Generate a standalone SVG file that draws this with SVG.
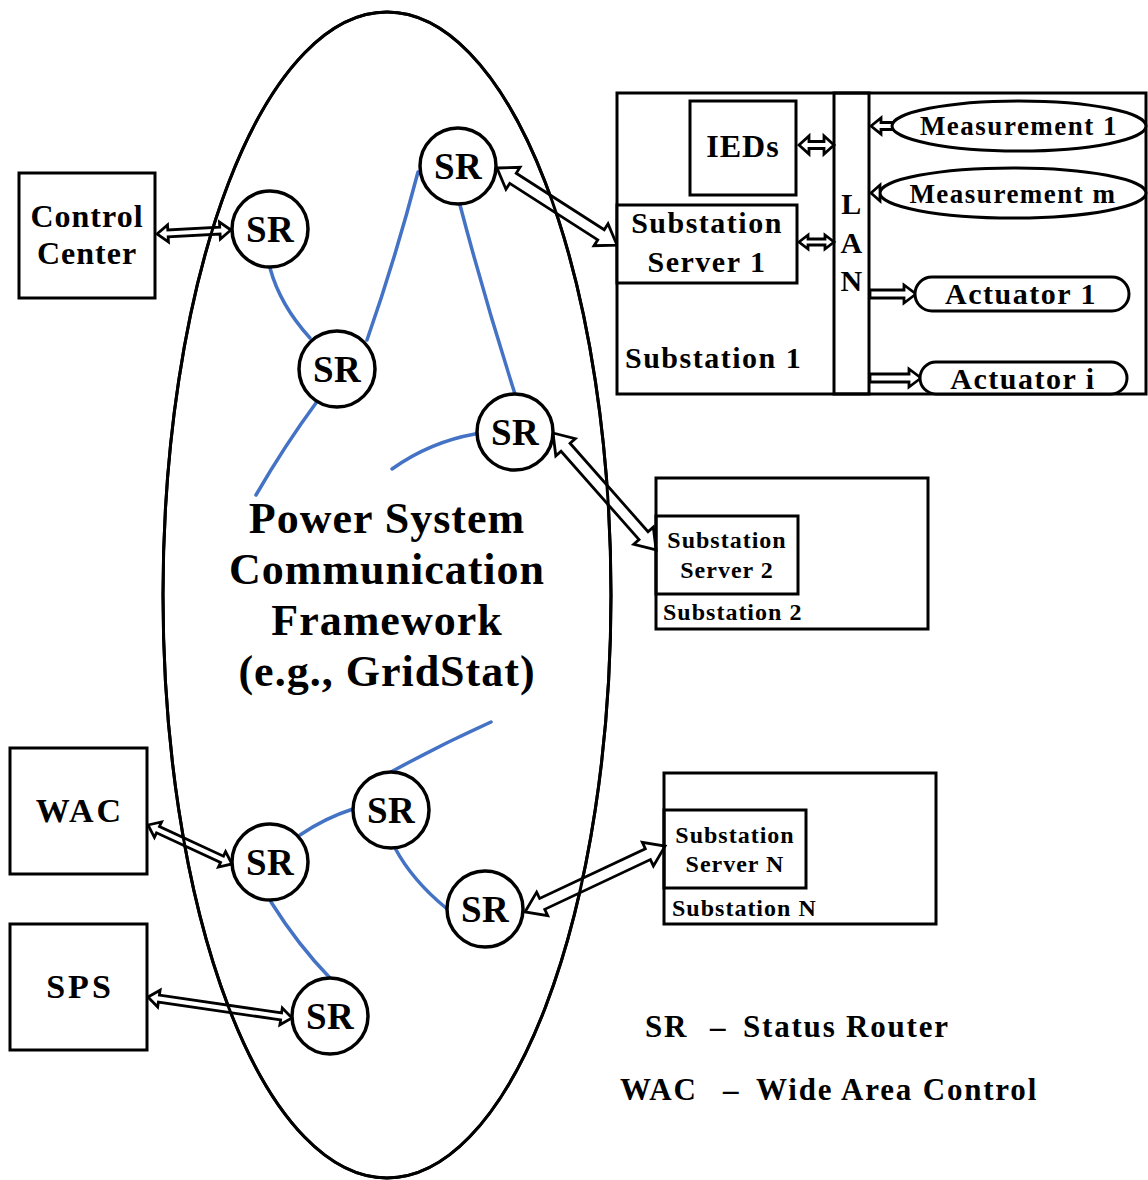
<svg xmlns="http://www.w3.org/2000/svg" width="1148" height="1180" viewBox="0 0 1148 1180">
<style>
.bx{fill:#fff;stroke:#000;stroke-width:3}
.nf{fill:none;stroke:#000;stroke-width:3}
.ar{fill:#fff;stroke:#000;stroke-width:2.8;stroke-linejoin:miter}
.bl{fill:none;stroke:#4472C4;stroke-width:3.5;stroke-linecap:round}
.sr{fill:#fff;stroke:#000;stroke-width:3.5}
text{font-family:"Liberation Serif","Times New Roman",serif;font-weight:bold;fill:#000}
.c{text-anchor:middle}
.t36{font-size:37px;letter-spacing:0.3px}
.t32{font-size:32px;letter-spacing:1px}
.t30{font-size:30px;letter-spacing:1.5px}
.t27{font-size:27px;letter-spacing:1.5px}
.t24{font-size:24px;letter-spacing:1px}
.t43{font-size:44px;letter-spacing:1px}
.t34{font-size:34px;letter-spacing:3px}
.t31{font-size:31px;letter-spacing:1.8px}
</style>
<rect width="1148" height="1180" fill="#fff"/>

<g id="framework">
<ellipse cx="387" cy="595" rx="224" ry="583" class="nf"/>
<text class="c t43" x="387" y="533">Power System</text>
<text class="c t43" x="387" y="584">Communication</text>
<text class="c t43" x="387" y="635">Framework</text>
<text class="c t43" x="387" y="686">(e.g., GridStat)</text>
</g>

<g id="links">
<path class="bl" d="M270,268 Q280,305 310,338"/>
<path class="bl" d="M367,340 Q395,260 418,172"/>
<path class="bl" d="M316,403 Q285,445 256,495"/>
<path class="bl" d="M460,205 Q485,300 515,394"/>
<path class="bl" d="M475,434 Q430,442 392,469"/>
<path class="bl" d="M491,722 Q440,745 391,772"/>
<path class="bl" d="M353,809 Q325,818 300,835"/>
<path class="bl" d="M395,848 Q412,880 446,908"/>
<path class="bl" d="M271,902 Q298,945 330,978"/>
</g>

<g id="connectors">
<polygon class="ar" transform="translate(157 234) rotate(-3.1)" points="0,0 11,-8.5 11,-3.5 63,-3.5 63,-8.5 74,0 63,8.5 63,3.5 11,3.5 11,8.5"/>
<polygon class="ar" transform="translate(148 825) rotate(24.9)" points="0,0 11,-8.5 11,-3.5 81.6,-3.5 81.6,-8.5 92.6,0 81.6,8.5 81.6,3.5 11,3.5 11,8.5"/>
<polygon class="ar" transform="translate(148 997) rotate(8.3)" points="0,0 11,-8.5 11,-3.5 134.5,-3.5 134.5,-8.5 145.5,0 134.5,8.5 134.5,3.5 11,3.5 11,8.5"/>
<polygon class="ar" transform="translate(497 168) rotate(32.7)" points="0,0 19,-13 19,-6 123.6,-6 123.6,-13 142.6,0 123.6,13 123.6,6 19,6 19,13"/>
<polygon class="ar" transform="translate(553 433) rotate(48.6)" points="0,0 19,-13 19,-6 136.9,-6 136.9,-13 155.9,0 136.9,13 136.9,6 19,6 19,13"/>
<polygon class="ar" transform="translate(525 912) rotate(-25.2)" points="0,0 19,-13 19,-6 135.8,-6 135.8,-13 154.8,0 135.8,13 135.8,6 19,6 19,13"/>
<polygon class="ar" transform="translate(799 145)" points="0,0 10,-9 10,-3.5 25,-3.5 25,-9 35,0 25,9 25,3.5 10,3.5 10,9"/>
<polygon class="ar" transform="translate(799 242)" points="0,0 9,-7 9,-3 26,-3 26,-7 35,0 26,7 26,3 9,3 9,7"/>
<polygon class="ar" transform="translate(871 126)" points="0,0 10,-8 10,-3.5 22,-3.5 22,3.5 10,3.5 10,8"/>
<polygon class="ar" transform="translate(871 193)" points="0,0 9,-8 9,-3 12,-3 12,3 9,3 9,8"/>
<polygon class="ar" transform="translate(916 294) rotate(180)" points="0,0 12,-9 12,-4 46,-4 46,4 12,4 12,9"/>
<polygon class="ar" transform="translate(921 378) rotate(180)" points="0,0 12,-9 12,-4 51,-4 51,4 12,4 12,9"/>
</g>

<ellipse cx="387" cy="595" rx="224" ry="583" class="nf"/>

<g id="control-center">
<rect class="bx" x="19" y="173" width="136" height="125"/>
<text class="c t32" x="87" y="227">Control</text>
<text class="c t32" x="87" y="264">Center</text>
</g>

<g id="wac">
<rect class="bx" x="10" y="748" width="137" height="126"/>
<text class="c t34" x="80" y="822">WAC</text>
</g>

<g id="sps">
<rect class="bx" x="10" y="924" width="137" height="126"/>
<text class="c t34" x="80" y="998">SPS</text>
</g>

<g id="sr1"><circle class="sr" cx="270" cy="229" r="38"/><text class="c t36" x="270" y="242">SR</text></g>
<g id="sr2"><circle class="sr" cx="337" cy="369" r="38"/><text class="c t36" x="337" y="382">SR</text></g>
<g id="sr3"><circle class="sr" cx="458" cy="166" r="38"/><text class="c t36" x="458" y="179">SR</text></g>
<g id="sr4"><circle class="sr" cx="515" cy="432" r="38"/><text class="c t36" x="515" y="445">SR</text></g>
<g id="sr5"><circle class="sr" cx="391" cy="810" r="38"/><text class="c t36" x="391" y="823">SR</text></g>
<g id="sr6"><circle class="sr" cx="270" cy="862" r="38"/><text class="c t36" x="270" y="875">SR</text></g>
<g id="sr7"><circle class="sr" cx="485" cy="909" r="38"/><text class="c t36" x="485" y="922">SR</text></g>
<g id="sr8"><circle class="sr" cx="330" cy="1016" r="38"/><text class="c t36" x="330" y="1029">SR</text></g>

<g id="substation1">
<rect class="nf" x="617" y="93" width="529" height="301"/>
<rect class="nf" x="834" y="93" width="35" height="301"/>
<text class="c t30" x="852" y="214">L</text>
<text class="c t30" x="852" y="253">A</text>
<text class="c t30" x="852" y="291">N</text>
<text class="t30" x="625" y="368">Substation 1</text>
</g>

<g id="ieds">
<rect class="bx" x="690" y="101" width="106" height="94"/>
<text class="c t32" x="743" y="157">IEDs</text>
</g>

<g id="server1">
<rect class="bx" x="617" y="205" width="180" height="78"/>
<text class="c t30" x="707" y="233">Substation</text>
<text class="c t30" x="707" y="272">Server 1</text>
</g>

<g id="measurement1">
<ellipse class="bx" cx="1019" cy="126" rx="127" ry="25"/>
<text class="c t27" x="1019" y="135">Measurement 1</text>
</g>
<g id="measurementm">
<ellipse class="bx" cx="1013" cy="193" rx="133" ry="25"/>
<text class="c t27" x="1013" y="203">Measurement m</text>
</g>
<g id="actuator1">
<rect class="bx" x="915" y="277" width="214" height="34" rx="17"/>
<text class="c t30" x="1021" y="304">Actuator 1</text>
</g>
<g id="actuatori">
<rect class="bx" x="920" y="362" width="207" height="32" rx="16"/>
<text class="c t30" x="1023" y="389">Actuator i</text>
</g>

<g id="substation2">
<rect class="nf" x="656" y="478" width="272" height="151"/>
<rect class="nf" x="656" y="516" width="142" height="78"/>
<text class="c t24" x="727" y="548">Substation</text>
<text class="c t24" x="727" y="578">Server 2</text>
<text class="t24" x="663" y="620">Substation 2</text>
</g>

<g id="substationN">
<rect class="nf" x="664" y="773" width="272" height="151"/>
<rect class="nf" x="664" y="810" width="142" height="78"/>
<text class="c t24" x="735" y="843">Substation</text>
<text class="c t24" x="735" y="872">Server N</text>
<text class="t24" x="672" y="916">Substation N</text>
</g>

<g id="legend">
<text class="t31" x="645" y="1037">SR</text>
<text class="t31" x="710" y="1037">–</text>
<text class="t31" x="743" y="1037">Status Router</text>
<text class="t31" x="620" y="1100">WAC</text>
<text class="t31" x="723" y="1100">–</text>
<text class="t31" x="756" y="1100">Wide Area Control</text>
</g>
</svg>
